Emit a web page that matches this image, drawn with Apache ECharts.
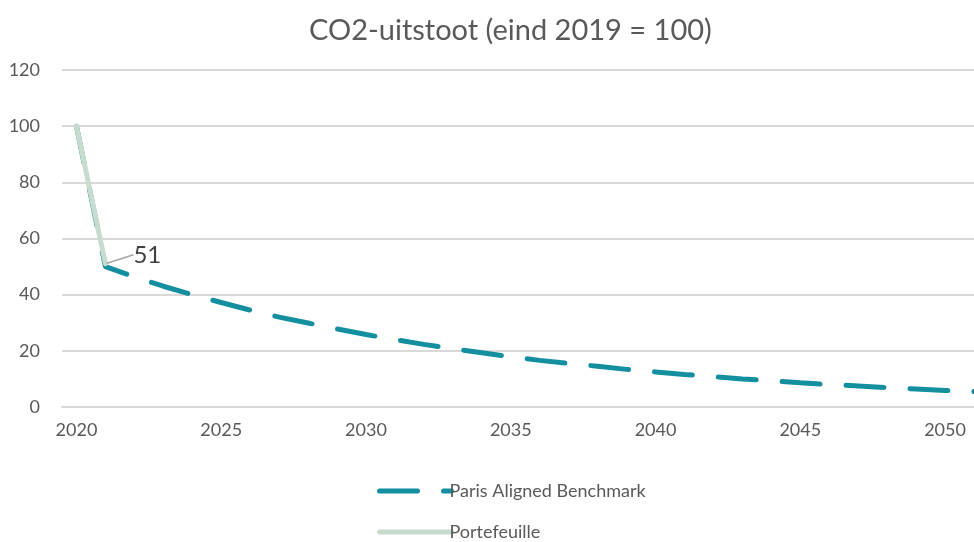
<!DOCTYPE html>
<html>
<head>
<meta charset="utf-8">
<script src="https://cdn.jsdelivr.net/npm/echarts@6/dist/echarts.min.js"></script>
<style>
  html, body { margin: 0; padding: 0; background: #fff; }
  #chart { width: 974px; height: 542px; }
</style>
</head>
<body>
<div id="chart"></div>
<script>
const titleText = 'CO2-uitstoot (eind 2019 = 100)';
const years = [2020, 2021, 2022, 2023, 2024, 2025, 2026, 2027, 2028, 2029, 2030,
  2031, 2032, 2033, 2034, 2035, 2036, 2037, 2038, 2039, 2040,
  2041, 2042, 2043, 2044, 2045, 2046, 2047, 2048, 2049, 2050, 2051];
const benchmark = [100, 50, 46.3, 43, 40, 37.2, 34.5, 32, 29.9, 27.8, 25.8,
  24, 22.3, 20.7, 19.3, 17.9, 16.6, 15.5, 14.5, 13.4, 12.5,
  11.6, 10.8, 10.0, 9.3, 8.6, 8.0, 7.5, 6.9, 6.4, 5.9, 5.5];
const portfolioYears = [2020, 2021];
const portfolio = [100, 51];
const xTickLabels = [2020, 2025, 2030, 2035, 2040, 2045, 2050];
const yTicks = [0, 20, 40, 60, 80, 100, 120];
const seriesNames = ['Paris Aligned Benchmark', 'Portefeuille'];

const FONT = 'Lato';
const chart = echarts.init(document.getElementById('chart'));
chart.setOption({
  animation: false,
  backgroundColor: '#ffffff',
  title: {
    text: titleText,
    left: 304,
    top: 11,
    textStyle: { fontFamily: FONT, fontSize: 29, fontWeight: 'normal', color: '#595959' }
  },
  grid: { left: 62, right: 0, top: 70, bottom: 135, containLabel: false },
  legend: {
    orient: 'vertical',
    left: 372,
    top: 477,
    height: 120,
    itemGap: 23,
    itemWidth: 72,
    itemHeight: 12,
    data: seriesNames,
    itemStyle: { opacity: 0 },
    lineStyle: { width: 5 },
    textStyle: { fontFamily: FONT, fontSize: 18, color: '#595959', padding: [0, 0, 0, -7] }
  },
  xAxis: {
    type: 'value',
    min: 2019.5,
    max: 2051,
    axisLine: { show: true, lineStyle: { color: '#d9d9d9', width: 2 } },
    axisTick: { show: false },
    splitLine: { show: false },
    axisLabel: {
      customValues: xTickLabels,
      formatter: v => String(v),
      fontFamily: FONT, fontSize: 18, color: '#595959', margin: 14
    }
  },
  yAxis: {
    type: 'value',
    min: yTicks[0],
    max: yTicks[yTicks.length - 1],
    interval: 20,
    axisLine: { show: false },
    axisTick: { show: false },
    splitLine: { lineStyle: { color: '#d9d9d9', width: 2 } },
    axisLabel: { fontFamily: FONT, fontSize: 18, color: '#595959', margin: 22 }
  },
  series: [
    {
      name: seriesNames[0],
      type: 'line',
      data: years.map((y, i) => [y, benchmark[i]]),
      symbol: 'none',
      color: '#138f9f',
      lineStyle: { color: '#138f9f', width: 5, type: [38, 26], cap: 'round' },
      z: 2
    },
    {
      name: seriesNames[1],
      type: 'line',
      data: portfolioYears.map((y, i) => ({
        value: [y, portfolio[i]],
        label: { show: i === 1 }
      })),
      symbol: 'circle',
      symbolSize: 2,
      showSymbol: true,
      color: '#c8dbcf',
      itemStyle: { color: '#c8dbcf' },
      lineStyle: { color: '#c8dbcf', width: 5, cap: 'round' },
      label: {
        position: 'right',
        fontFamily: FONT, fontSize: 24, color: '#404040',
        formatter: p => String(p.value[1])
      },
      labelLayout: { dx: 22, dy: -9 },
      labelLine: { show: true, lineStyle: { color: '#a6a6a6', width: 1.5 } },
      z: 3
    }
  ]
});
</script>
</body>
</html>
